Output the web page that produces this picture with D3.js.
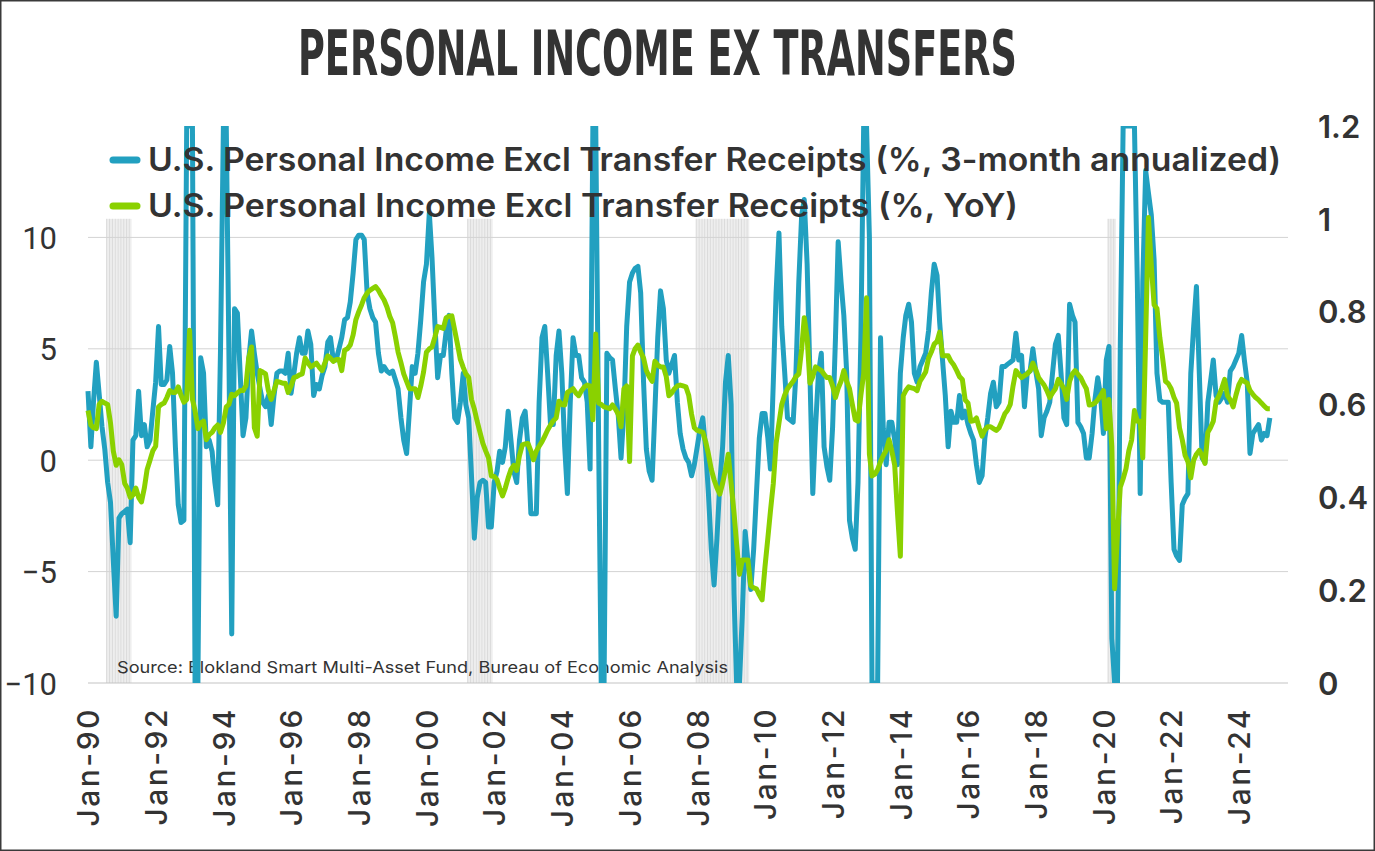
<!DOCTYPE html>
<html><head><meta charset="utf-8">
<script src="https://cdn.jsdelivr.net/npm/d3@7"></script>
<style>html,body{margin:0;padding:0;background:#fff;}svg{display:block}</style>
</head><body><svg id="c" width="1375" height="851"></svg>
<script>
// ---------------- DATA ----------------
const startYear = 1990;           // monthly series start Jan-1990
const tickLabels = ["Jan-90","Jan-92","Jan-94","Jan-96","Jan-98","Jan-00","Jan-02","Jan-04","Jan-06",
  "Jan-08","Jan-10","Jan-12","Jan-14","Jan-16","Jan-18","Jan-20","Jan-22","Jan-24"];
const leftTicks = [-10, -5, 0, 5, 10];
const rightTicks = [0, 0.2, 0.4, 0.6, 0.8, 1, 1.2];
const recessions = [[1990,6,1991,2],[2001,2,2001,10],[2007,11,2009,5],[2020,1,2020,3]]; // [y0,m0,y1,m1] (month 0-based)
const seriesNames = ["U.S. Personal Income Excl Transfer Receipts (%, 3-month annualized)",
  "U.S. Personal Income Excl Transfer Receipts (%, YoY)"];
const sourceText = "Source: Blokland Smart Multi-Asset Fund, Bureau of Economic Analysis";
const titleText = "PERSONAL INCOME EX TRANSFERS";

// 3-month annualized (left axis), one row per year Jan..Dec
const blue3m = [
 [3.1,0.6,2.6,4.4,3.0,1.5,0.5,-1.0,-1.9,-4.5,-7.0,-2.6],
 [-2.4,-2.3,-2.2,-3.7,0.9,1.1,3.1,1.1,1.6,0.6,0.9,2.2],
 [3.5,6.0,3.4,3.4,3.6,5.1,3.9,0.6,-2.0,-2.8,-2.7,25],
 [24,18,-18,-15,4.6,3.9,0.6,0.9,0.4,-1.0,-2.0,5],
 [22,20,5,-7.8,6.8,6.6,3.9,1.1,1.9,4.5,5.8,4.8],
 [3.9,3.2,2.6,2.4,2.9,1.6,2.9,3.9,4.0,4.0,3.9,4.8],
 [3.0,3.9,4.8,5.5,4.8,4.8,5.8,5.2,2.9,3.4,3.2,3.8],
 [4.2,5.3,5.5,4.5,4.5,5.0,5.5,6.3,6.4,7.1,8.4,9.9],
 [10.1,10.1,9.9,7.5,6.8,6.4,6.2,4.8,4.0,4.2,4.0,3.9],
 [4.0,3.6,3.2,1.9,0.9,0.3,2.2,4.2,3.9,4.8,6.3,8.0],
 [8.8,11.1,9.1,6.2,3.7,4.7,4.7,5.8,6.5,3.9,1.9,1.7],
 [2.6,3.9,2.5,1.9,-0.7,-3.5,-1.7,-1.0,-0.9,-1.0,-3.0,-3.0],
 [-1.0,-0.5,0.4,-0.1,0.6,2.2,0.9,-0.5,-1.0,0.9,1.9,2.2],
 [0.6,-2.4,-2.4,-2.4,2.6,5.5,6.0,3.9,1.6,1.6,4.7,5.8],
 [3.9,0.6,-1.5,2.6,5.5,4.7,4.7,3.7,3.5,2.6,-0.4,28],
 [26,0.9,-25,-12,4.8,4.6,4.5,3.2,2.0,0.1,2.2,6.0],
 [8.0,8.4,8.6,8.7,7.5,3.5,0.5,-0.5,-0.9,2.2,5.5,7.6],
 [6.8,4.5,3.9,4.3,4.7,2.6,1.2,0.5,0.1,-0.1,-0.7,-0.2],
 [0.6,1.4,1.9,0.5,-1.5,-4.0,-5.6,-3.5,-1.0,0.6,3.5,4.7],
 [2.5,-6.0,-12,-11,-7,-3.2,-4.5,-5.8,-4.0,-1.5,1.0,2.1],
 [2.1,1.0,-0.4,3.5,7.5,10.2,6.0,4.0,1.9,1.8,1.7,3.9],
 [8.0,11.0,11.7,8.8,3.9,-1.5,1.5,3.9,4.8,0.6,-0.3,-0.9],
 [1.5,5.5,9.8,8.0,6.5,3.9,-2.7,-3.5,-4.0,-1.0,5.5,30],
 [28,10,-25,-22,-10,5.5,1.4,-0.2,1.7,1.7,0.9,-0.2],
 [3.9,5.5,6.5,7.0,6.2,3.9,3.5,4.2,4.5,4.8,5.8,7.5],
 [8.8,8.3,6.2,4.5,2.9,0.6,2.2,1.7,1.7,2.9,1.9,2.2],
 [1.6,1.2,0.9,-0.2,-1.0,-0.7,1.0,1.9,3.0,3.5,2.4,2.6],
 [4.2,4.2,4.3,4.4,4.5,5.7,4.5,4.7,2.4,3.9,4.0,5.0],
 [4.0,3.2,1.1,1.9,2.2,2.6,3.9,5.2,5.6,3.9,1.9,1.6],
 [7.0,6.5,6.2,1.7,1.5,1.2,0.1,0.1,1.2,2.7,3.7,2.9],
 [1.2,4.5,5.1,-8,-35,-30,5,35,30,25,20,18],
 [8,-1.5,8,13,12,11,9,3.9,2.7,2.6,2.6,2.6],
 [-1.0,-4.0,-4.3,-4.5,-2.0,-1.7,-1.5,3.9,6.0,7.8,3.9,0.1],
 [-0.1,2.6,3.5,4.5,2.9,2.6,2.8,3.0,2.6,4.0,4.2,4.5],
 [4.8,5.6,4.5,3.5,0.3,1.2,1.4,1.6,0.9,1.2,1.1,1.9]
];

// YoY (right axis), one row per year Jan..Dec
const greenYoY = [
 [0.587,0.556,0.55,0.548,0.60,0.607,0.603,0.60,0.56,0.50,0.469,0.481],
 [0.47,0.43,0.42,0.40,0.405,0.42,0.40,0.39,0.42,0.46,0.48,0.50],
 [0.51,0.595,0.60,0.603,0.615,0.63,0.626,0.626,0.638,0.62,0.605,0.611],
 [0.76,0.611,0.587,0.548,0.56,0.564,0.524,0.535,0.54,0.55,0.556,0.54],
 [0.56,0.595,0.60,0.622,0.619,0.625,0.63,0.63,0.64,0.70,0.724,0.55],
 [0.532,0.673,0.67,0.666,0.63,0.611,0.63,0.65,0.648,0.646,0.646,0.626],
 [0.64,0.658,0.66,0.664,0.666,0.70,0.69,0.681,0.685,0.689,0.68,0.673],
 [0.69,0.705,0.70,0.693,0.697,0.697,0.673,0.717,0.72,0.728,0.75,0.783],
 [0.80,0.815,0.83,0.84,0.846,0.85,0.854,0.846,0.835,0.825,0.81,0.79],
 [0.776,0.745,0.713,0.69,0.666,0.65,0.634,0.634,0.634,0.615,0.64,0.67],
 [0.713,0.72,0.724,0.745,0.768,0.766,0.764,0.787,0.79,0.791,0.76,0.73],
 [0.697,0.68,0.666,0.658,0.611,0.59,0.564,0.54,0.516,0.50,0.485,0.446],
 [0.445,0.438,0.42,0.403,0.42,0.442,0.46,0.469,0.458,0.49,0.513,0.515],
 [0.516,0.50,0.481,0.50,0.51,0.52,0.532,0.545,0.556,0.565,0.571,0.607],
 [0.60,0.599,0.626,0.63,0.634,0.625,0.619,0.63,0.638,0.642,0.64,0.567],
 [0.752,0.603,0.60,0.595,0.593,0.591,0.599,0.59,0.579,0.552,0.634,0.64],
 [0.477,0.705,0.72,0.728,0.713,0.70,0.673,0.66,0.65,0.693,0.685,0.681],
 [0.681,0.66,0.619,0.625,0.634,0.64,0.642,0.64,0.638,0.62,0.579,0.55],
 [0.544,0.542,0.54,0.52,0.493,0.46,0.438,0.42,0.407,0.43,0.46,0.493],
 [0.43,0.367,0.30,0.234,0.265,0.265,0.265,0.21,0.205,0.203,0.19,0.179],
 [0.25,0.312,0.37,0.43,0.516,0.56,0.60,0.62,0.634,0.642,0.65,0.66],
 [0.666,0.72,0.787,0.744,0.646,0.66,0.681,0.677,0.673,0.665,0.658,0.658],
 [0.64,0.615,0.635,0.65,0.673,0.65,0.634,0.60,0.567,0.564,0.62,0.666],
 [0.83,0.493,0.446,0.45,0.46,0.477,0.49,0.501,0.524,0.50,0.469,0.367],
 [0.273,0.619,0.63,0.638,0.636,0.634,0.63,0.65,0.66,0.67,0.70,0.713],
 [0.73,0.736,0.756,0.705,0.705,0.705,0.693,0.685,0.673,0.66,0.654,0.61],
 [0.603,0.564,0.565,0.571,0.55,0.532,0.545,0.552,0.552,0.548,0.544,0.55],
 [0.564,0.58,0.587,0.60,0.64,0.673,0.665,0.658,0.662,0.666,0.673,0.689],
 [0.675,0.658,0.65,0.642,0.63,0.615,0.625,0.634,0.654,0.645,0.634,0.611],
 [0.65,0.666,0.673,0.665,0.658,0.645,0.634,0.599,0.60,0.603,0.61,0.619],
 [0.63,0.548,0.611,0.509,0.203,0.32,0.422,0.44,0.462,0.50,0.524,0.587],
 [0.564,0.564,0.485,0.744,1.003,0.90,0.815,0.807,0.744,0.70,0.65,0.645],
 [0.634,0.615,0.603,0.55,0.524,0.49,0.477,0.442,0.48,0.493,0.501,0.49],
 [0.473,0.54,0.55,0.564,0.607,0.619,0.635,0.654,0.619,0.61,0.595,0.62],
 [0.642,0.654,0.65,0.646,0.63,0.622,0.615,0.61,0.603,0.597,0.591,0.591]
];

// ---------------- LAYOUT ----------------
const W = 1375, H = 851;
const L = 88, R = 1288, T = 126, B = 683;
const BLUE = "#22a0c0", GREEN = "#8ad100", TXT = "#333333";

const svg = d3.select("#c");
svg.append("rect").attr("width", W).attr("height", H).attr("fill", "#fff");

const x = d3.scaleTime().domain([new Date(1990,0,1), new Date(2025,5,15)]).range([L, R]);
const yL = d3.scaleLinear().domain([-10, 15]).range([B, T]);
const yR = d3.scaleLinear().domain([0, 1.2]).range([B, T]);

const toPoints = rows => rows.flatMap((row, yi) => row.map((v, mi) => ({d: new Date(startYear + yi, mi, 1), v})));
const bluePts = toPoints(blue3m);
const greenPts = toPoints(greenYoY);

// recession shading
const rec = svg.append("g");
recessions.forEach(([y0,m0,y1,m1]) => {
  const months = d3.timeMonth.range(new Date(y0,m0,1), new Date(y1,m1+1,1));
  months.forEach(d => {
    const x0 = x(new Date(d.getFullYear(), d.getMonth(), 16));
    const x1 = x(new Date(d.getFullYear(), d.getMonth()+1, 16));
    rec.append("rect").attr("x", x0).attr("width", x1 - x0)
      .attr("y", yR(1)).attr("height", B - yR(1)).attr("fill", "#eeeeee");
    rec.append("line").attr("x1", x0 + 0.5).attr("x2", x0 + 0.5)
      .attr("y1", yR(1)).attr("y2", B).attr("stroke", "#d6d6d6").attr("stroke-width", 0.8);
  });
});

// gridlines
svg.append("g").selectAll("line").data(leftTicks.filter(t => t > -10)).join("line")
  .attr("x1", L).attr("x2", R).attr("y1", d => yL(d)).attr("y2", d => yL(d))
  .attr("stroke", "#d3d3d3").attr("stroke-width", 1);
// bottom axis line
svg.append("line").attr("x1", L).attr("x2", R).attr("y1", B).attr("y2", B)
  .attr("stroke", "#c4c4c4").attr("stroke-width", 1.2);

// source text (behind lines)
svg.append("text").attr("x", 117).attr("y", 673).text(sourceText)
  .attr("font-family", "Inter, 'Noto Sans', sans-serif").attr("font-size", 16.5)
  .attr("fill", TXT).attr("textLength", 611).attr("lengthAdjust", "spacingAndGlyphs");

// clip
svg.append("clipPath").attr("id", "plotclip").append("rect")
  .attr("x", L - 5).attr("y", T).attr("width", R - L + 10).attr("height", B - T);

const yLc = yL.copy().clamp(true);
const blueLine = d3.line().x(p => x(p.d)).y(p => yLc(p.v));
const greenLine = d3.line().x(p => x(p.d)).y(p => yR(p.v));

const plot = svg.append("g").attr("clip-path", "url(#plotclip)");
plot.append("path").datum(bluePts).attr("d", blueLine).attr("fill", "none")
  .attr("stroke", BLUE).attr("stroke-width", 5).attr("stroke-linejoin", "round");
plot.append("path").datum(greenPts).attr("d", greenLine).attr("fill", "none")
  .attr("stroke", GREEN).attr("stroke-width", 5).attr("stroke-linejoin", "round");

// left axis
const axL = svg.append("g").attr("transform", `translate(${L - 31},0)`)
  .call(d3.axisLeft(yL).tickValues(leftTicks).tickSize(0).tickPadding(0).tickFormat(d3.format("d")));
axL.select(".domain").remove();
axL.selectAll("text").attr("font-family", "Roboto, 'Noto Sans', sans-serif").attr("font-size", 31)
  .attr("fill", TXT).attr("dy", "0.36em");

// right axis
const axR = svg.append("g").attr("transform", `translate(${R + 30},0)`)
  .call(d3.axisRight(yR).tickValues(rightTicks).tickSize(0).tickPadding(0).tickFormat(d => d3.format("")(d)));
axR.select(".domain").remove();
axR.selectAll("text").attr("font-family", "Inter, 'Noto Sans', sans-serif").attr("font-size", 31)
  .attr("font-weight", 600).attr("fill", TXT).attr("dy", "0.36em");

// bottom axis labels
const tickDates = tickLabels.map((t, i) => new Date(startYear + 2 * i, 0, 1));
const axB = svg.append("g").attr("transform", `translate(0,${B})`)
  .call(d3.axisBottom(x).tickValues(tickDates).tickSize(0).tickFormat((d, i) => tickLabels[i]));
axB.select(".domain").remove();
axB.selectAll("text")
  .attr("font-family", "Inter, 'Noto Sans', sans-serif").attr("font-size", 30).attr("font-weight", 500)
  .attr("letter-spacing", 2.5).attr("fill", TXT)
  .attr("text-anchor", "end").attr("dy", "0.36em")
  .attr("transform", "translate(0,24) rotate(-90)").attr("y", 0).attr("x", 0);

// legend
const legend = svg.append("g");
[[BLUE, 160, 171, seriesNames[0], 1133], [GREEN, 206, 217, seriesNames[1], 870]].forEach(([c, ly, ty, label, len]) => {
  legend.append("line").attr("x1", 113).attr("x2", 137).attr("y1", ly).attr("y2", ly)
    .attr("stroke", c).attr("stroke-width", 7).attr("stroke-linecap", "round");
  legend.append("text").attr("x", 148).attr("y", ty).text(label)
    .attr("font-family", "Inter, 'Noto Sans', sans-serif").attr("font-size", 32).attr("font-weight", 600)
    .attr("fill", TXT).attr("textLength", len).attr("lengthAdjust", "spacingAndGlyphs");
});

// title: measured, then horizontally scaled to the reference width
const title = svg.append("text").attr("x", 0).attr("y", 0).text(titleText)
  .attr("font-family", "'DejaVu Sans Condensed', 'Liberation Sans Narrow', Roboto, sans-serif")
  .attr("font-size", 62).attr("font-weight", 700).attr("fill", "#333");
const natural = title.node().getComputedTextLength();
title.attr("transform", `translate(298,75) scale(${719 / natural},1)`);

// border
svg.append("rect").attr("x", 0.75).attr("y", 0.75).attr("width", W - 1.5).attr("height", H - 1.5)
  .attr("fill", "none").attr("stroke", "#3a3a3a").attr("stroke-width", 1.5);
</script></body></html>
